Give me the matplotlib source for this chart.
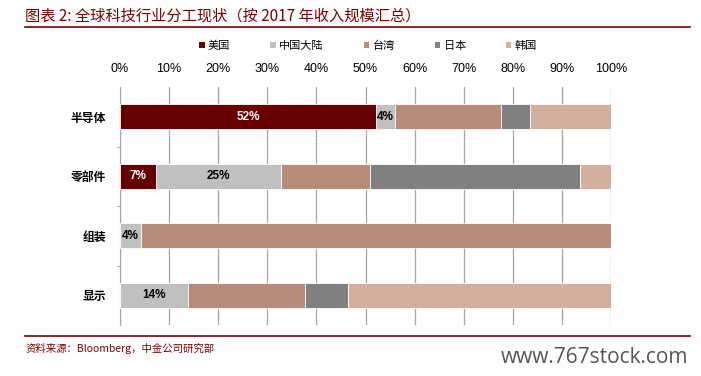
import numpy as np
import matplotlib.pyplot as plt
from matplotlib.patches import Patch
from matplotlib.lines import Line2D

plt.rcParams['font.family'] = ['Noto Sans CJK SC', 'DejaVu Sans']

# data: share of 2017 revenue by region, per segment (%)
categories = ['半导体', '零部件', '组装', '显示']
regions = ['美国', '中国大陆', '台湾', '日本', '韩国']
us = [52.1, 7.4, 0.0, 0.0]
china = [4.0, 25.4, 4.2, 13.8]
taiwan = [21.5, 18.1, 95.8, 23.8]
japan = [6.0, 42.8, 0.0, 8.8]
korea = [16.4, 6.3, 0.0, 53.6]
# which segments carry a value label
shown = {'美国': [True, True, False, False],
         '中国大陆': [True, True, True, True]}

colors = ['#660000', '#C0C0C0', '#B88B79', '#808080', '#D3AFA0']
label_colors = {'美国': 'white', '中国大陆': 'black'}

fig = plt.figure(figsize=(7.01, 3.76), dpi=100)
ax = fig.add_axes([0.1712, 0.1356, 0.7004, 0.633])

series = [us, china, taiwan, japan, korea]
y = np.arange(len(categories))
left = np.zeros(len(categories))
for name, vals, col in zip(regions, series, colors):
    vals = np.array(vals)
    ax.barh(y, vals, left=left, height=0.42, color=col, edgecolor='white',
            linewidth=0.6, zorder=3)
    if name in shown:
        for i, v in enumerate(vals):
            if shown[name][i]:
                ax.text(left[i] + v / 2, y[i], f'{round(v)}%', ha='center', va='center',
                        fontsize=8.5, fontweight='bold', family='Liberation Sans',
                        color=label_colors[name], zorder=4)
    left += vals

ax.set_xlim(0, 100)
ax.set_ylim(len(categories) - 0.5, -0.5)
ax.set_xticks(np.arange(0, 101, 10))
ax.set_xticklabels([f'{t}%' for t in range(0, 101, 10)], family='Liberation Sans', fontsize=9)
ax.xaxis.tick_top()
ax.tick_params(axis='x', length=0, pad=9)
ax.grid(axis='x', color='#A6A6A6', linewidth=0.9, zorder=0)

# category boundaries get the small tick marks, names sit at minor ticks
ax.set_yticks(y[:-1] + 0.5)
ax.set_yticklabels([])
ax.set_yticks(y, minor=True)
ax.set_yticklabels(categories, minor=True, fontsize=8.5, fontweight='bold')
ax.tick_params(axis='y', which='major', length=2, color='#A6A6A6', direction='out')
ax.tick_params(axis='y', which='minor', length=0, pad=10)

for s in ['top', 'right', 'bottom']:
    ax.spines[s].set_visible(False)
ax.spines['left'].set_color('#A6A6A6')

handles = [Patch(facecolor=c, label=r) for r, c in zip(regions, colors)]
fig.legend(handles=handles, loc='center', bbox_to_anchor=(0.525, 0.878), ncol=5,
           frameon=False, fontsize=8, handlelength=0.5, handleheight=0.5,
           handletextpad=0.3, columnspacing=3.6)

red = '#7A0000'
fig.text(0.036, 0.958, '图表 2: 全球科技行业分工现状（按 2017 年收入规模汇总）',
         color=red, fontsize=11, style='italic', va='center', ha='left')
fig.add_artist(Line2D([0.036, 0.984], [0.928, 0.928], color=red, linewidth=1.2))
fig.add_artist(Line2D([0.036, 0.984], [0.107, 0.107], color=red, linewidth=1.2))
fig.text(0.036, 0.073, '资料来源：Bloomberg，中金公司研究部', color=red,
         fontsize=7.5, style='italic', va='center', ha='left')
fig.text(0.982, 0.048, 'www.767stock.com', color='#555555', fontsize=15,
         family='Open Sans', ha='right', va='center')

fig.savefig('out.png', dpi=100)
